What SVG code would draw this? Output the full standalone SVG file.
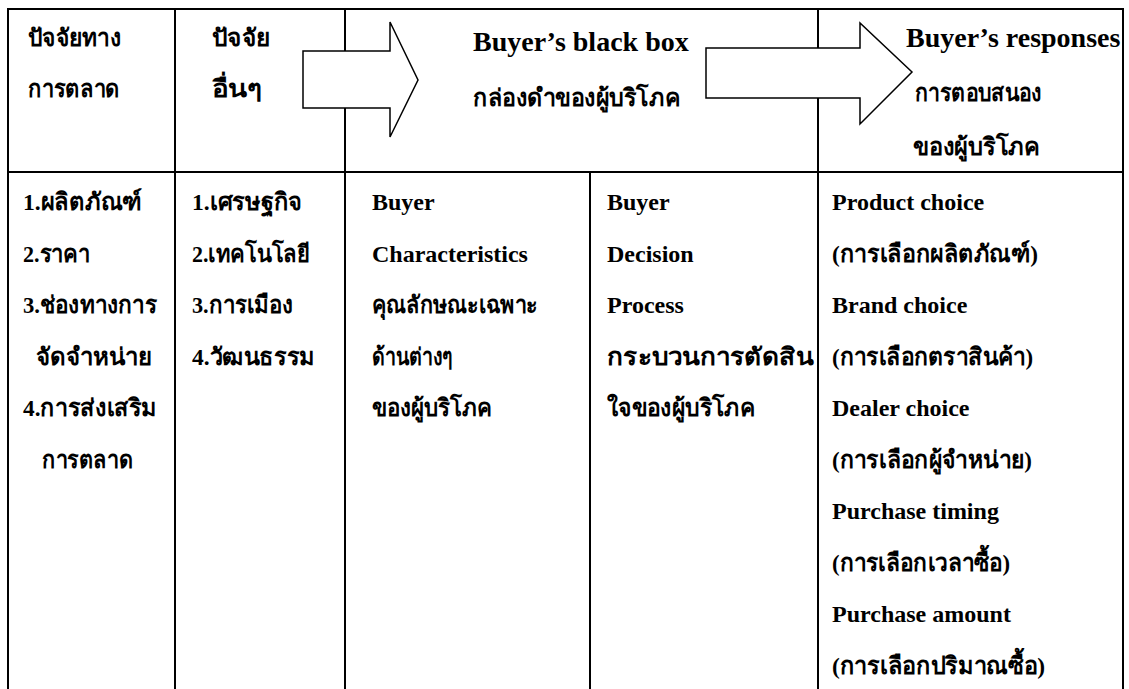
<svg xmlns="http://www.w3.org/2000/svg" width="1129" height="689" viewBox="0 0 1129 689">
<style>
.ln{stroke:#000;stroke-width:2;fill:none}
.ar{stroke:#000;stroke-width:1.5;fill:#fff;stroke-linejoin:miter}
text{font-family:"Liberation Serif",serif;font-weight:bold;fill:#000}
.h{font-size:28px}
.b{font-size:24px}
</style>
<rect width="1129" height="689" fill="#fff"/>
<g id="grid">
<line class="ln" x1="7" y1="9" x2="1124" y2="9"/>
<line class="ln" x1="7" y1="172" x2="1124" y2="172"/>
<line class="ln" x1="8" y1="8" x2="8" y2="689"/>
<line class="ln" x1="175" y1="8" x2="175" y2="689"/>
<line class="ln" x1="345" y1="8" x2="345" y2="689"/>
<line class="ln" x1="590" y1="172" x2="590" y2="689"/>
<line class="ln" x1="818" y1="8" x2="818" y2="689"/>
<line class="ln" x1="1123" y1="8" x2="1123" y2="689"/>
</g>
<g id="connectors">
<polygon class="ar" points="303,51 390,51 390,22 418,80 390,137 390,108 303,108"/>
<polygon class="ar" points="706,48 860,48 860,23 912,72 860,124 860,98 706,98"/>
</g>
<g id="marketing-factors">
<text class="b" x="28" y="46" textLength="93" lengthAdjust="spacingAndGlyphs">ปัจจัยทาง</text>
<text class="b" x="28" y="97" textLength="92" lengthAdjust="spacingAndGlyphs">การตลาด</text>
<text class="b" x="23" y="210" textLength="119" lengthAdjust="spacingAndGlyphs">1.ผลิตภัณฑ์</text>
<text class="b" x="23" y="261.5" textLength="67" lengthAdjust="spacingAndGlyphs">2.ราคา</text>
<text class="b" x="23" y="313" textLength="134" lengthAdjust="spacingAndGlyphs">3.ช่องทางการ</text>
<text class="b" x="36" y="364.5" textLength="116" lengthAdjust="spacingAndGlyphs">จัดจำหน่าย</text>
<text class="b" x="23" y="416" textLength="134" lengthAdjust="spacingAndGlyphs">4.การส่งเสริม</text>
<text class="b" x="42" y="467.5" textLength="91" lengthAdjust="spacingAndGlyphs">การตลาด</text>
</g>
<g id="other-factors">
<text class="b" x="212" y="46" textLength="58" lengthAdjust="spacingAndGlyphs">ปัจจัย</text>
<text class="b" x="212" y="97" textLength="50" lengthAdjust="spacingAndGlyphs">อื่นๆ</text>
<text class="b" x="192" y="210" textLength="110" lengthAdjust="spacingAndGlyphs">1.เศรษฐกิจ</text>
<text class="b" x="192" y="261.5" textLength="118" lengthAdjust="spacingAndGlyphs">2.เทคโนโลยี</text>
<text class="b" x="192" y="313" textLength="101" lengthAdjust="spacingAndGlyphs">3.การเมือง</text>
<text class="b" x="192" y="364.5" textLength="123" lengthAdjust="spacingAndGlyphs">4.วัฒนธรรม</text>
</g>
<g id="black-box">
<text class="h" x="473" y="51">Buyer’s black box</text>
<text class="b" x="473" y="106" textLength="207" lengthAdjust="spacingAndGlyphs">กล่องดำของผู้บริโภค</text>
</g>
<g id="buyer-characteristics">
<text class="b" x="372" y="210">Buyer</text>
<text class="b" x="372" y="261.5">Characteristics</text>
<text class="b" x="372" y="313" textLength="166" lengthAdjust="spacingAndGlyphs">คุณลักษณะเฉพาะ</text>
<text class="b" x="372" y="364.5" textLength="81" lengthAdjust="spacingAndGlyphs">ด้านต่างๆ</text>
<text class="b" x="372" y="416" textLength="120" lengthAdjust="spacingAndGlyphs">ของผู้บริโภค</text>
</g>
<g id="buyer-decision">
<text class="b" x="607" y="210">Buyer</text>
<text class="b" x="607" y="261.5">Decision</text>
<text class="b" x="607" y="313">Process</text>
<text class="b" x="607" y="364.5" textLength="206" lengthAdjust="spacingAndGlyphs">กระบวนการตัดสิน</text>
<text class="b" x="607" y="416" textLength="148" lengthAdjust="spacingAndGlyphs">ใจของผู้บริโภค</text>
</g>
<g id="responses">
<text class="h" x="906" y="47">Buyer’s responses</text>
<text class="b" x="915" y="101" textLength="127" lengthAdjust="spacingAndGlyphs">การตอบสนอง</text>
<text class="b" x="913" y="155" textLength="127" lengthAdjust="spacingAndGlyphs">ของผู้บริโภค</text>
<text class="b" x="832" y="210">Product choice</text>
<text class="b" x="832" y="261.5" textLength="206" lengthAdjust="spacingAndGlyphs">(การเลือกผลิตภัณฑ์)</text>
<text class="b" x="832" y="313">Brand choice</text>
<text class="b" x="832" y="364.5" textLength="201" lengthAdjust="spacingAndGlyphs">(การเลือกตราสินค้า)</text>
<text class="b" x="832" y="416">Dealer choice</text>
<text class="b" x="832" y="467.5" textLength="200" lengthAdjust="spacingAndGlyphs">(การเลือกผู้จำหน่าย)</text>
<text class="b" x="832" y="519">Purchase timing</text>
<text class="b" x="832" y="570.5" textLength="178" lengthAdjust="spacingAndGlyphs">(การเลือกเวลาซื้อ)</text>
<text class="b" x="832" y="622">Purchase amount</text>
<text class="b" x="832" y="673.5" textLength="213" lengthAdjust="spacingAndGlyphs">(การเลือกปริมาณซื้อ)</text>
</g>
</svg>
